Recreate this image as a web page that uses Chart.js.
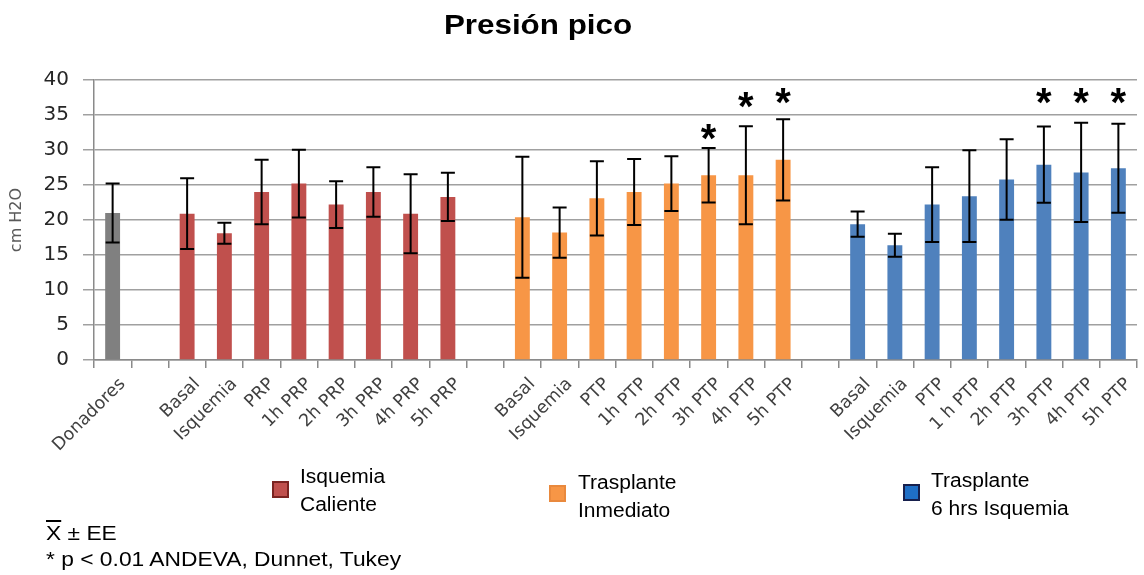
<!DOCTYPE html>
<html>
<head>
<meta charset="utf-8">
<script src="https://cdn.jsdelivr.net/npm/chart.js@4/dist/chart.umd.min.js"></script>
<style>
  body { margin: 0; background: #fff; }
  #wrap { position: relative; width: 1144px; height: 575px; overflow: hidden; }
  #wrap canvas { position: absolute; left: 0; top: 0; }
  .txt { position: absolute; font-family: "Liberation Sans", Arial, sans-serif; color: #000; white-space: nowrap; transform-origin: 0 0; }
  #title { left: 538px; top: 9px; font-size: 28px; font-weight: bold; transform: translateX(-50%) scaleX(1.12); transform-origin: 50% 0; }
  .leg { font-size: 20px; line-height: 28px; transform: scaleX(1.05); }
  .sq { position: absolute; width: 13px; height: 13px; border: 2px solid; }
  .foot { font-size: 20px; transform: scaleX(1.14); }
</style>
</head>
<body>
<div id="wrap">
  <canvas id="chart" width="1144" height="575"></canvas>
  <div id="title" class="txt">Presión pico</div>

  <div class="sq" style="left:272px;top:481px;background:#c0504d;border-color:#7b2421;"></div>
  <div class="txt leg" style="left:300px;top:462px;">Isquemia<br>Caliente</div>

  <div class="sq" style="left:549px;top:485px;background:#f79646;border-color:#e9893d;"></div>
  <div class="txt leg" style="left:578px;top:468px;">Trasplante<br>Inmediato</div>

  <div class="sq" style="left:903px;top:484px;background:#1f6fc6;border-color:#17204d;"></div>
  <div class="txt leg" style="left:931px;top:466px;">Trasplante<br>6 hrs Isquemia</div>

  <div class="txt foot" style="left:46px;top:522px;"><span style="text-decoration:overline;">X</span> ± EE</div>
  <div class="txt foot" style="left:46px;top:548px;">* p &lt; 0.01 ANDEVA, Dunnet, Tukey</div>
</div>

<script>
// categorias del eje x ('' = espacio entre grupos)
const labels = ['Donadores', '',
  'Basal', 'Isquemia', 'PRP', '1h PRP', '2h PRP', '3h PRP', '4h PRP', '5h PRP', '',
  'Basal', 'Isquemia', 'PTP', '1h PTP', '2h PTP', '3h PTP', '4h PTP', '5h PTP', '',
  'Basal', 'Isquemia', 'PTP', '1 h PTP', '2h PTP', '3h PTP', '4h PTP', '5h PTP'];

const yTicks = [0, 5, 10, 15, 20, 25, 30, 35, 40];

// medias y error estandar (cm H2O)
const donadores = [21.0];
const donadoresEE = [4.2];

const isqCaliente = [20.9, 18.1, 24.0, 25.2, 22.2, 24.0, 20.9, 23.3];
const isqCalienteEE = [5.05, 1.5, 4.6, 4.85, 3.35, 3.55, 5.65, 3.45];

const trasInmediato = [20.4, 18.2, 23.1, 24.0, 25.2, 26.4, 26.4, 28.6];
const trasInmediatoEE = [8.65, 3.6, 5.3, 4.7, 3.9, 3.9, 7.0, 5.8];
const trasInmediatoStar = [null, null, null, null, null, 32.3, 36.8, 37.4];

const tras6h = [19.4, 16.4, 22.2, 23.4, 25.8, 27.9, 26.8, 27.4];
const tras6hEE = [1.8, 1.65, 5.35, 6.55, 5.75, 5.45, 7.1, 6.35];
const tras6hStar = [null, null, null, null, null, 37.4, 37.4, 37.4];

// coloca cada serie en su tramo del eje
function place(values, start) {
  const out = labels.map(() => null);
  values.forEach((v, i) => { out[start + i] = v; });
  return out;
}

const groups = [
  { name: 'Donadores', start: 0, data: donadores, ee: donadoresEE, stars: [], color: '#808080' },
  { name: 'Isquemia Caliente', start: 2, data: isqCaliente, ee: isqCalienteEE, stars: [], color: '#c0504d' },
  { name: 'Trasplante Inmediato', start: 11, data: trasInmediato, ee: trasInmediatoEE, stars: trasInmediatoStar, color: '#f79646' },
  { name: 'Trasplante 6 hrs Isquemia', start: 20, data: tras6h, ee: tras6hEE, stars: tras6hStar, color: '#4f81bd' }
];

const errorBars = {
  id: 'errorBars',
  afterDatasetsDraw(chart) {
    const ctx = chart.ctx;
    const y = chart.scales.y;
    ctx.save();
    chart.data.datasets.forEach((ds, di) => {
      const meta = chart.getDatasetMeta(di);
      meta.data.forEach((bar, i) => {
        const v = ds.data[i];
        if (v == null) return;
        const e = ds.ee[i];
        const top = y.getPixelForValue(v + e);
        const bot = y.getPixelForValue(v - e);
        ctx.strokeStyle = '#000';
        ctx.lineWidth = 2;
        ctx.beginPath();
        ctx.moveTo(bar.x, top); ctx.lineTo(bar.x, bot);
        ctx.moveTo(bar.x - 7, top); ctx.lineTo(bar.x + 7, top);
        ctx.moveTo(bar.x - 7, bot); ctx.lineTo(bar.x + 7, bot);
        ctx.stroke();
        const s = ds.stars[i];
        if (s != null) {
          ctx.fillStyle = '#000';
          ctx.font = 'bold 40px "Liberation Sans"';
          ctx.textAlign = 'center';
          ctx.textBaseline = 'alphabetic';
          ctx.fillText('*', bar.x, y.getPixelForValue(s) + 18);
        }
      });
    });
    ctx.restore();
  }
};

new Chart(document.getElementById('chart'), {
  type: 'bar',
  data: {
    labels: labels,
    datasets: groups.map(g => ({
      label: g.name,
      data: place(g.data, g.start),
      ee: place(g.ee, g.start),
      stars: place(g.stars, g.start),
      backgroundColor: g.color,
      grouped: false,
      barPercentage: 0.4,
      categoryPercentage: 1.0
    }))
  },
  options: {
    responsive: false,
    animation: false,
    layout: { padding: { top: 80, left: 0, right: 7, bottom: 110 } },
    plugins: {
      legend: { display: false },
      title: { display: false },
      tooltip: { enabled: false }
    },
    scales: {
      x: {
        offset: true,
        grid: { offset: true, drawOnChartArea: false, drawTicks: true, tickLength: 8, color: '#8a8a8a', lineWidth: 1.5 },
        border: { color: '#8a8a8a', width: 1.5 },
        ticks: {
          autoSkip: false, minRotation: 45, maxRotation: 45, labelOffset: 10, padding: 6,
          color: '#404040', font: { family: 'DejaVu Sans', size: 17.5 }
        },
        afterFit(scale) { scale.height = 105; }
      },
      y: {
        min: 0, max: 40,
        afterBuildTicks(scale) { scale.ticks = yTicks.map(v => ({ value: v })); },
        grid: { color: '#a0a0a0', lineWidth: 1.5, tickLength: 11 },
        border: { color: '#8a8a8a', width: 1.5 },
        ticks: { padding: 14, color: '#262626', font: { family: 'DejaVu Sans', size: 20 } },
        title: { display: true, text: 'cm H2O', color: '#595959', font: { family: 'DejaVu Sans', size: 16 }, padding: { top: 7, bottom: 0 } },
        afterFit(scale) { scale.width = 94; }
      }
    }
  },
  plugins: [errorBars]
});
</script>
</body>
</html>
